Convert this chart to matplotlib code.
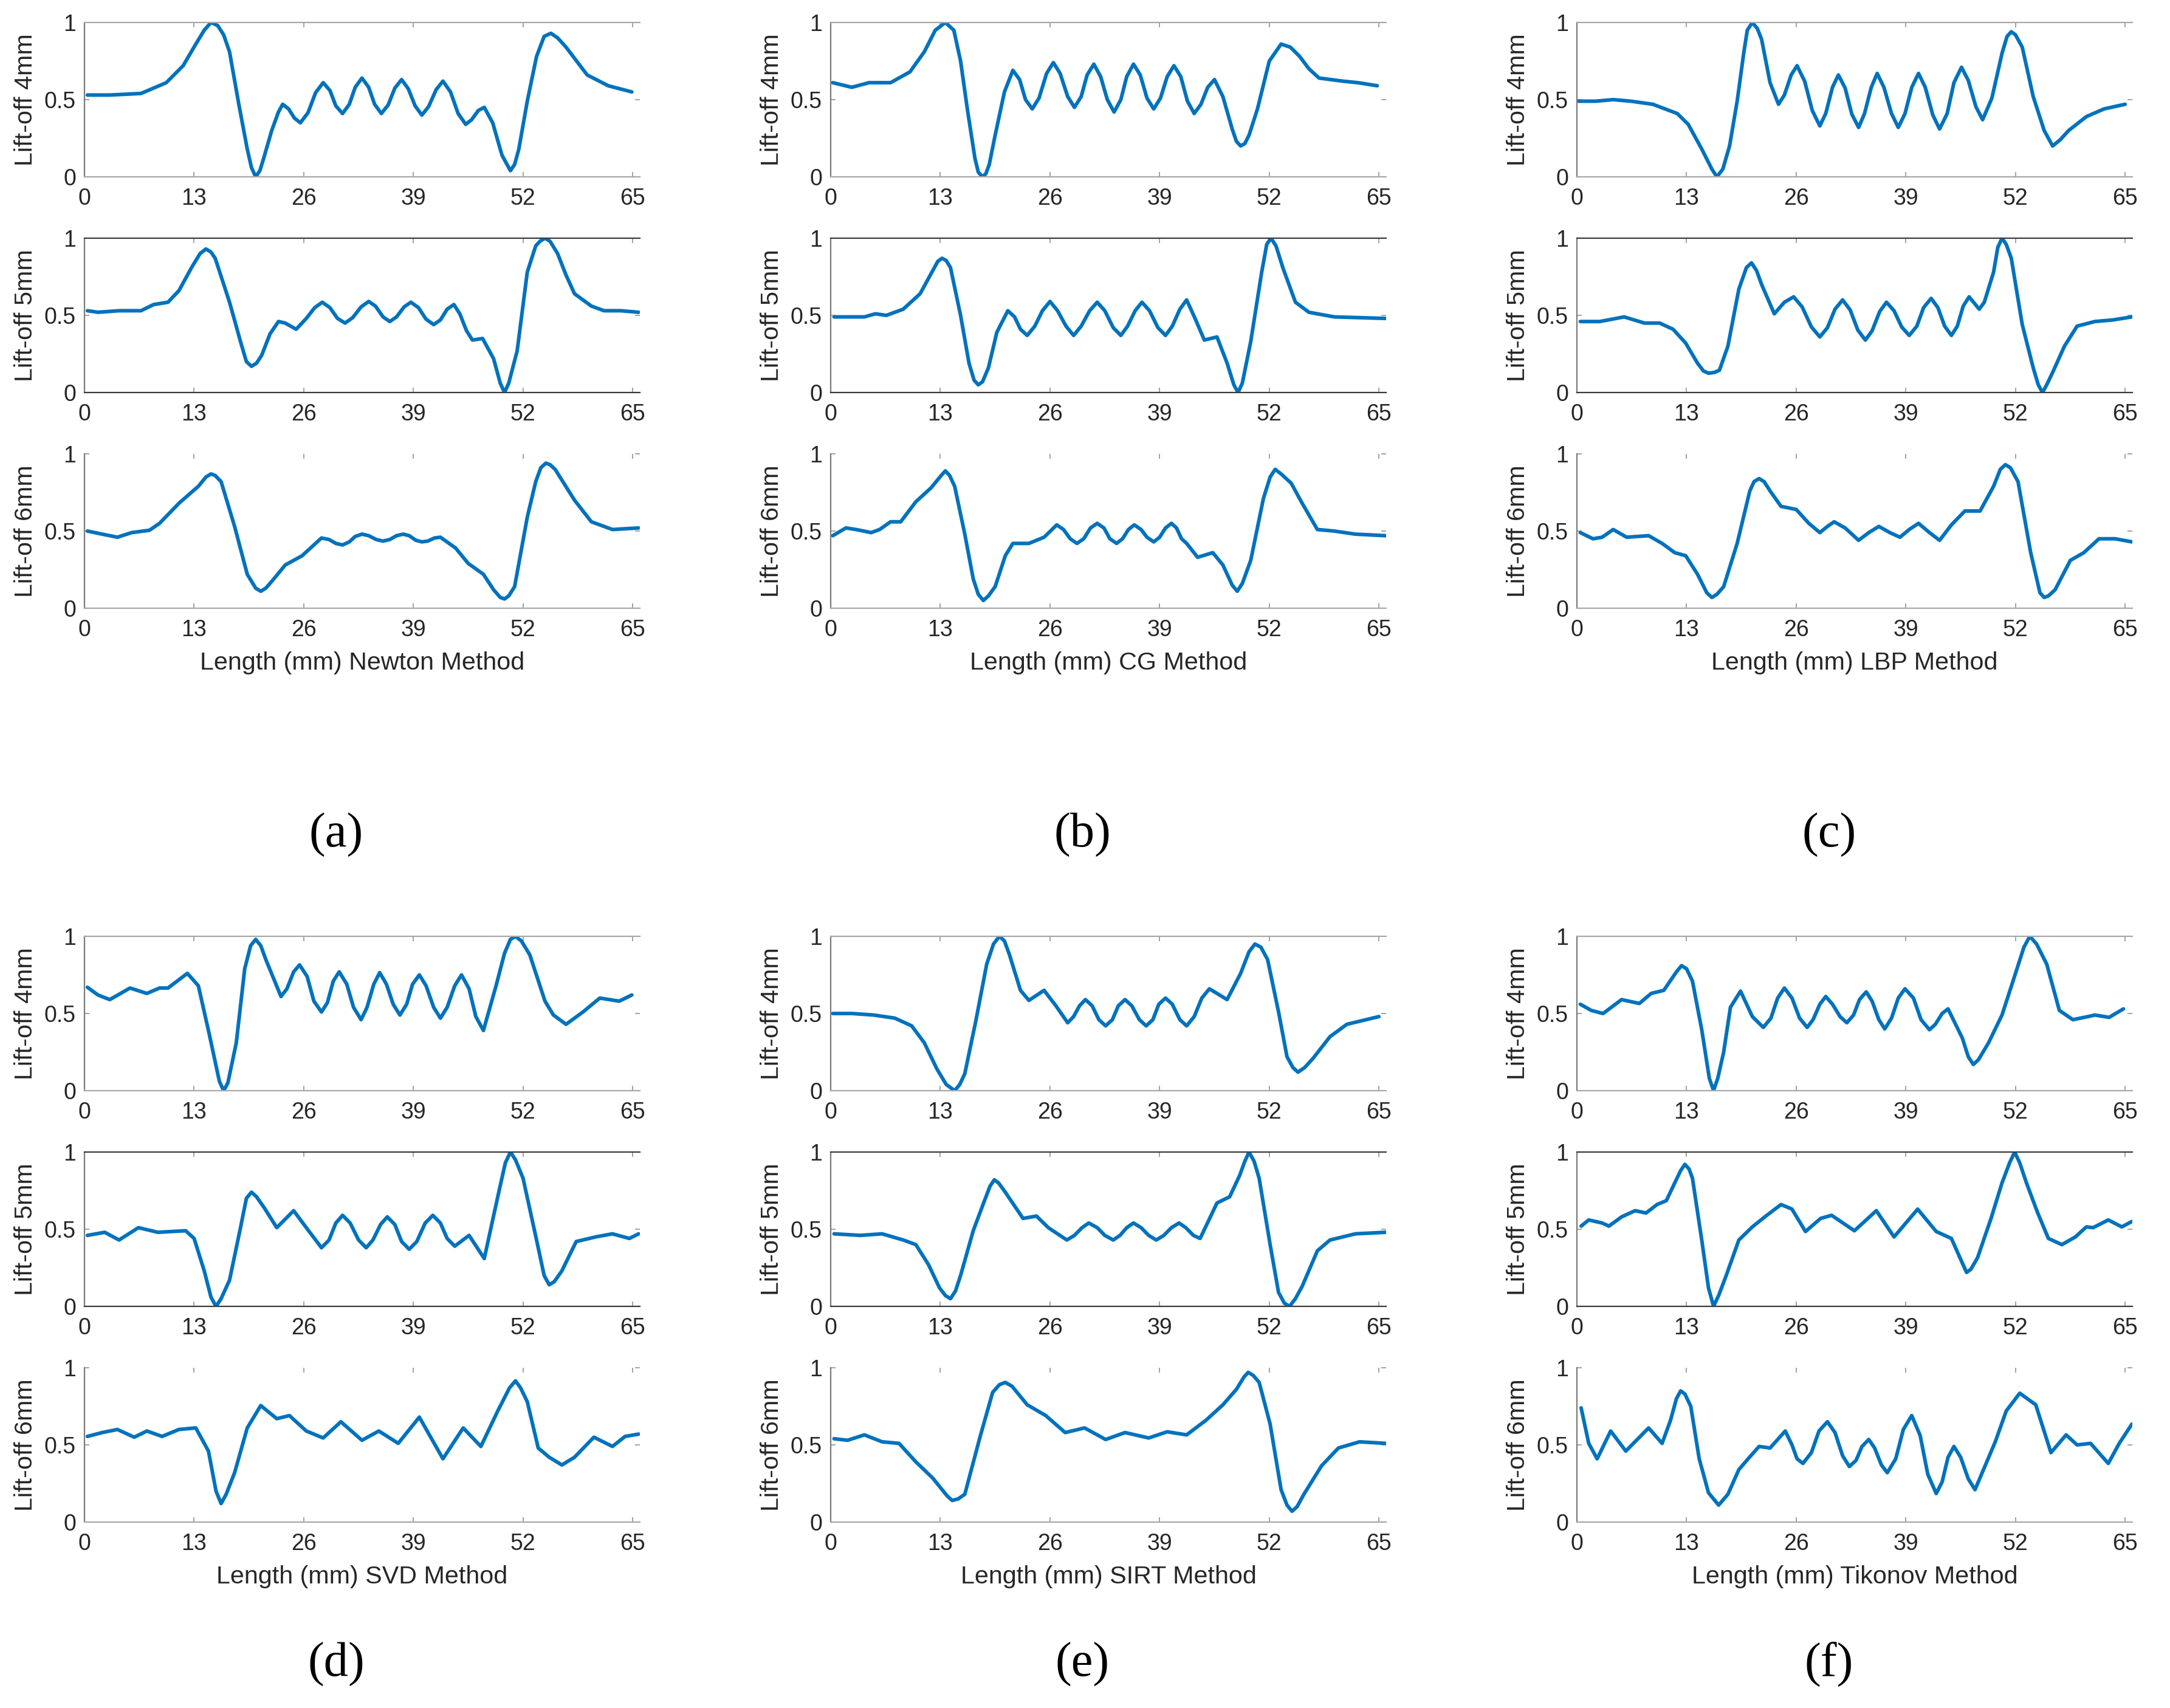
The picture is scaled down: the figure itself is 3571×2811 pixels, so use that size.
import matplotlib
matplotlib.use('Agg')
import matplotlib.pyplot as plt

# curves: (length mm, normalised signal)
newton_4 = [(0.35, 0.53), (3.0, 0.53), (6.7, 0.54), (9.7, 0.61), (11.7, 0.72), (13.2, 0.86), (14.2, 0.95),
            (15.0, 1.0), (15.8, 0.98), (16.5, 0.92), (17.2, 0.81), (18.3, 0.47), (19.3, 0.18), (19.8, 0.06),
            (20.3, 0.0), (20.8, 0.04), (21.3, 0.13), (22.2, 0.30), (23.0, 0.42), (23.5, 0.47), (24.2, 0.44),
            (24.9, 0.38), (25.6, 0.35), (26.5, 0.415), (27.4, 0.545), (28.3, 0.61), (29.1, 0.56), (29.8, 0.46),
            (30.6, 0.41), (31.4, 0.47), (32.1, 0.58), (32.9, 0.64), (33.7, 0.58), (34.4, 0.47), (35.2, 0.41),
            (36.0, 0.465), (36.8, 0.575), (37.6, 0.63), (38.4, 0.57), (39.2, 0.46), (40.0, 0.40), (40.8, 0.455),
            (41.7, 0.565), (42.5, 0.62), (43.4, 0.55), (44.3, 0.41), (45.2, 0.34), (45.9, 0.37), (46.7, 0.43),
            (47.4, 0.45), (48.4, 0.35), (49.5, 0.14), (50.5, 0.04), (51.0, 0.08), (51.5, 0.18), (52.5, 0.49),
            (53.6, 0.78), (54.5, 0.91), (55.3, 0.93), (56.1, 0.90), (57.1, 0.84), (59.6, 0.66), (62.1, 0.59),
            (64.9, 0.55)]
newton_5 = [(0.35, 0.53), (1.6, 0.52), (4.1, 0.53), (6.7, 0.53), (8.2, 0.57), (9.9, 0.585), (11.2, 0.66),
            (12.7, 0.81), (13.7, 0.90), (14.4, 0.93), (15.0, 0.91), (15.5, 0.87), (17.2, 0.585), (18.5, 0.33),
            (19.2, 0.20), (19.8, 0.17), (20.4, 0.19), (21.0, 0.24), (22.0, 0.38), (23.0, 0.46), (23.8, 0.45),
            (25.1, 0.41), (26.3, 0.48), (27.3, 0.55), (28.2, 0.585), (29.1, 0.55), (30.0, 0.48), (30.9, 0.45),
            (31.8, 0.485), (32.8, 0.555), (33.7, 0.59), (34.5, 0.56), (35.4, 0.49), (36.2, 0.46), (37.0, 0.49),
            (37.9, 0.555), (38.7, 0.585), (39.6, 0.55), (40.5, 0.475), (41.4, 0.44), (42.2, 0.47), (43.0, 0.54),
            (43.8, 0.57), (44.5, 0.51), (45.3, 0.40), (46.0, 0.34), (47.2, 0.35), (48.5, 0.22), (49.3, 0.06),
            (49.8, 0.0), (50.3, 0.06), (51.3, 0.27), (52.5, 0.78), (53.5, 0.95), (54.0, 0.98), (54.6, 1.0),
            (55.2, 0.98), (56.1, 0.90), (57.1, 0.76), (58.1, 0.64), (60.1, 0.56), (61.6, 0.53), (63.6, 0.53),
            (65.7, 0.52)]
newton_6 = [(0.35, 0.50), (2.1, 0.48), (3.9, 0.46), (5.6, 0.49), (7.7, 0.505), (8.9, 0.55), (11.2, 0.68),
            (13.5, 0.79), (14.4, 0.85), (15.0, 0.87), (15.5, 0.86), (16.2, 0.82), (17.8, 0.53), (19.3, 0.22),
            (20.3, 0.13), (20.9, 0.11), (21.5, 0.13), (22.3, 0.18), (23.8, 0.28), (25.8, 0.34), (27.0, 0.40),
            (28.1, 0.455), (29.0, 0.445), (29.8, 0.42), (30.6, 0.41), (31.4, 0.43), (32.1, 0.465), (32.9, 0.48),
            (33.7, 0.47), (34.6, 0.445), (35.4, 0.435), (36.2, 0.445), (37.0, 0.47), (37.8, 0.48), (38.5, 0.47),
            (39.3, 0.44), (40.0, 0.43), (40.7, 0.435), (41.5, 0.455), (42.2, 0.46), (44.0, 0.39), (45.5, 0.29),
            (47.3, 0.22), (48.5, 0.12), (49.3, 0.07), (49.8, 0.06), (50.3, 0.08), (51.0, 0.14), (52.5, 0.59),
            (53.5, 0.82), (54.1, 0.91), (54.7, 0.94), (55.2, 0.93), (55.8, 0.90), (58.1, 0.70), (60.1, 0.56),
            (62.6, 0.51), (65.7, 0.52)]

cg_4 = [(0.25, 0.61), (2.5, 0.58), (4.55, 0.61), (7.1, 0.61), (9.4, 0.68), (11.1, 0.81), (12.4, 0.95),
        (13.6, 1.0), (14.6, 0.95), (15.4, 0.75), (16.2, 0.44), (17.1, 0.12), (17.5, 0.03), (18.0, 0.0),
        (18.4, 0.02), (18.8, 0.08), (19.5, 0.27), (20.6, 0.55), (21.6, 0.69), (22.4, 0.63), (23.1, 0.50),
        (23.9, 0.44), (24.7, 0.51), (25.6, 0.67), (26.4, 0.74), (27.2, 0.67), (28.1, 0.52), (28.9, 0.45),
        (29.7, 0.52), (30.4, 0.66), (31.2, 0.73), (32.0, 0.65), (32.8, 0.50), (33.6, 0.42), (34.4, 0.50),
        (35.1, 0.65), (35.9, 0.73), (36.7, 0.66), (37.5, 0.51), (38.3, 0.44), (39.1, 0.51), (39.9, 0.65),
        (40.7, 0.72), (41.5, 0.65), (42.3, 0.49), (43.1, 0.41), (43.9, 0.47), (44.7, 0.58), (45.5, 0.63),
        (46.5, 0.52), (47.6, 0.31), (48.1, 0.23), (48.6, 0.20), (49.1, 0.215), (49.6, 0.27), (50.6, 0.44),
        (52.0, 0.75), (53.4, 0.86), (54.5, 0.84), (55.6, 0.78), (56.7, 0.70), (57.9, 0.64), (60.7, 0.62),
        (62.5, 0.61), (64.8, 0.59)]
cg_5 = [(0.4, 0.49), (4.0, 0.49), (5.3, 0.51), (6.6, 0.50), (8.6, 0.54), (10.6, 0.64), (12.2, 0.80),
        (12.7, 0.85), (13.2, 0.87), (13.7, 0.855), (14.2, 0.81), (15.4, 0.50), (16.4, 0.19), (17.0, 0.08),
        (17.5, 0.05), (18.0, 0.07), (18.7, 0.16), (19.7, 0.39), (21.0, 0.53), (21.8, 0.49), (22.5, 0.41),
        (23.3, 0.37), (24.2, 0.43), (25.1, 0.53), (26.0, 0.59), (26.9, 0.53), (27.9, 0.43), (28.8, 0.37),
        (29.7, 0.43), (30.7, 0.53), (31.6, 0.585), (32.5, 0.53), (33.5, 0.42), (34.4, 0.37), (35.2, 0.43),
        (36.1, 0.53), (36.9, 0.585), (37.8, 0.53), (38.8, 0.42), (39.7, 0.37), (40.5, 0.43), (41.4, 0.54),
        (42.2, 0.60), (43.2, 0.48), (44.3, 0.34), (45.8, 0.36), (47.0, 0.19), (47.8, 0.05), (48.3, 0.0),
        (48.8, 0.06), (49.8, 0.33), (51.1, 0.78), (51.7, 0.96), (52.2, 1.0), (52.8, 0.95), (53.6, 0.81),
        (55.1, 0.585), (56.7, 0.52), (59.7, 0.49), (65.8, 0.48)]
cg_6 = [(0.25, 0.47), (1.8, 0.52), (3.0, 0.51), (4.8, 0.49), (5.8, 0.51), (7.1, 0.56), (8.3, 0.56),
        (10.1, 0.69), (11.9, 0.78), (13.1, 0.86), (13.6, 0.89), (14.1, 0.86), (14.7, 0.79), (15.9, 0.48),
        (16.9, 0.19), (17.5, 0.09), (18.1, 0.05), (18.7, 0.08), (19.5, 0.14), (20.7, 0.34), (21.6, 0.42),
        (23.5, 0.42), (25.3, 0.46), (26.8, 0.54), (27.6, 0.51), (28.4, 0.45), (29.2, 0.42), (30.0, 0.45),
        (30.8, 0.52), (31.6, 0.55), (32.4, 0.52), (33.1, 0.45), (33.9, 0.42), (34.6, 0.45), (35.3, 0.51),
        (36.0, 0.54), (36.8, 0.51), (37.5, 0.46), (38.3, 0.43), (39.0, 0.46), (39.7, 0.52), (40.4, 0.55),
        (41.0, 0.52), (41.6, 0.45), (42.2, 0.42), (43.5, 0.33), (45.3, 0.36), (46.5, 0.28), (47.6, 0.15),
        (48.2, 0.11), (48.8, 0.16), (49.8, 0.31), (51.3, 0.71), (52.1, 0.85), (52.7, 0.90), (53.4, 0.87),
        (54.6, 0.81), (55.9, 0.68), (57.7, 0.51), (59.7, 0.50), (62.2, 0.48), (65.8, 0.47)]

lbp_4 = [(0.2, 0.49), (2.2, 0.49), (4.3, 0.50), (6.4, 0.49), (9.0, 0.47), (11.9, 0.41), (13.2, 0.34),
         (14.8, 0.18), (16.0, 0.05), (16.6, 0.0), (17.3, 0.05), (18.1, 0.20), (19.0, 0.49), (19.8, 0.81),
         (20.2, 0.95), (20.8, 1.0), (21.4, 0.96), (21.9, 0.89), (22.9, 0.61), (23.9, 0.47), (24.6, 0.53),
         (25.4, 0.66), (26.1, 0.72), (27.0, 0.62), (27.9, 0.43), (28.8, 0.33), (29.5, 0.41), (30.3, 0.58),
         (31.0, 0.66), (31.8, 0.575), (32.6, 0.405), (33.4, 0.32), (34.1, 0.41), (34.9, 0.58), (35.6, 0.67),
         (36.4, 0.58), (37.3, 0.41), (38.1, 0.32), (38.9, 0.41), (39.7, 0.58), (40.5, 0.67), (41.3, 0.58),
         (42.2, 0.40), (43.0, 0.31), (43.9, 0.41), (44.7, 0.61), (45.6, 0.71), (46.4, 0.625), (47.3, 0.455),
         (48.1, 0.37), (49.2, 0.51), (50.4, 0.80), (51.0, 0.91), (51.5, 0.94), (52.0, 0.92), (52.8, 0.84),
         (54.1, 0.52), (55.4, 0.30), (56.4, 0.20), (57.3, 0.24), (58.3, 0.30), (60.4, 0.39), (62.5, 0.44),
         (65.0, 0.47)]
lbp_5 = [(0.4, 0.46), (2.7, 0.46), (5.6, 0.49), (8.0, 0.45), (9.8, 0.45), (11.4, 0.41), (12.9, 0.32),
         (14.3, 0.19), (15.0, 0.14), (15.6, 0.125), (16.3, 0.13), (16.9, 0.145), (17.9, 0.30), (19.2, 0.67),
         (20.1, 0.81), (20.7, 0.84), (21.3, 0.79), (21.9, 0.70), (23.4, 0.51), (24.6, 0.585), (25.7, 0.62),
         (26.7, 0.555), (27.8, 0.425), (28.8, 0.36), (29.7, 0.42), (30.6, 0.54), (31.5, 0.60), (32.4, 0.535),
         (33.3, 0.405), (34.2, 0.34), (35.0, 0.40), (35.9, 0.525), (36.7, 0.585), (37.6, 0.53), (38.5, 0.425),
         (39.4, 0.37), (40.3, 0.43), (41.1, 0.55), (42.0, 0.61), (42.8, 0.55), (43.6, 0.43), (44.4, 0.37),
         (45.1, 0.43), (45.8, 0.56), (46.5, 0.62), (47.7, 0.54), (48.3, 0.585), (49.4, 0.78), (49.9, 0.94),
         (50.4, 1.0), (50.9, 0.96), (51.5, 0.87), (52.8, 0.44), (54.1, 0.16), (54.7, 0.05), (55.2, 0.0),
         (55.7, 0.05), (56.4, 0.13), (57.8, 0.30), (59.3, 0.43), (61.4, 0.46), (63.5, 0.47), (65.8, 0.49)]
lbp_6 = [(0.4, 0.49), (1.9, 0.45), (3.0, 0.46), (4.3, 0.51), (5.9, 0.46), (8.5, 0.47), (10.1, 0.42),
         (11.6, 0.36), (12.9, 0.34), (14.3, 0.22), (15.4, 0.10), (16.0, 0.07), (16.6, 0.09), (17.4, 0.14),
         (19.0, 0.42), (20.5, 0.76), (21.0, 0.82), (21.6, 0.84), (22.2, 0.82), (22.9, 0.76), (24.2, 0.66),
         (26.0, 0.64), (27.5, 0.55), (28.8, 0.49), (29.7, 0.53), (30.5, 0.56), (31.8, 0.52), (33.4, 0.44),
         (34.6, 0.49), (35.8, 0.53), (37.1, 0.49), (38.3, 0.46), (39.4, 0.51), (40.5, 0.55), (41.8, 0.49),
         (43.0, 0.44), (44.4, 0.54), (46.0, 0.63), (47.8, 0.63), (49.4, 0.79), (50.2, 0.90), (50.8, 0.93),
         (51.4, 0.91), (52.3, 0.82), (53.8, 0.36), (54.9, 0.10), (55.4, 0.07), (55.9, 0.08), (56.7, 0.12),
         (58.5, 0.31), (60.1, 0.36), (61.9, 0.45), (63.8, 0.45), (65.8, 0.43)]

svd_4 = [(0.35, 0.67), (1.6, 0.62), (3.0, 0.59), (5.4, 0.665), (7.4, 0.63), (8.9, 0.665), (9.9, 0.665),
         (12.2, 0.76), (13.5, 0.68), (14.7, 0.39), (16.0, 0.06), (16.5, 0.0), (17.0, 0.05), (18.0, 0.31),
         (19.0, 0.79), (19.7, 0.94), (20.3, 0.98), (20.9, 0.94), (21.5, 0.85), (23.3, 0.61), (24.0, 0.66),
         (24.8, 0.77), (25.5, 0.815), (26.4, 0.74), (27.2, 0.58), (28.1, 0.51), (28.8, 0.57), (29.5, 0.71),
         (30.2, 0.77), (31.1, 0.69), (31.9, 0.54), (32.8, 0.46), (33.5, 0.54), (34.3, 0.69), (35.0, 0.765),
         (35.8, 0.69), (36.6, 0.56), (37.4, 0.49), (38.2, 0.56), (38.9, 0.69), (39.7, 0.75), (40.5, 0.68),
         (41.4, 0.54), (42.2, 0.47), (43.0, 0.54), (43.9, 0.68), (44.7, 0.75), (45.6, 0.66), (46.4, 0.48),
         (47.3, 0.39), (48.8, 0.68), (49.8, 0.89), (50.5, 0.98), (51.1, 1.0), (51.8, 0.97), (52.8, 0.88),
         (54.6, 0.58), (55.6, 0.49), (57.1, 0.43), (59.1, 0.51), (61.1, 0.60), (63.4, 0.58), (64.9, 0.62)]
svd_5 = [(0.35, 0.46), (2.4, 0.48), (4.1, 0.43), (6.4, 0.51), (8.7, 0.48), (12.0, 0.49), (13.0, 0.44),
         (14.2, 0.23), (15.0, 0.06), (15.6, 0.0), (16.2, 0.05), (17.2, 0.17), (18.5, 0.51), (19.2, 0.70),
         (19.8, 0.74), (20.4, 0.71), (21.3, 0.64), (22.8, 0.51), (24.8, 0.62), (26.3, 0.51), (28.1, 0.38),
         (29.0, 0.43), (29.8, 0.54), (30.6, 0.59), (31.5, 0.54), (32.5, 0.43), (33.4, 0.38), (34.2, 0.43),
         (35.1, 0.53), (35.9, 0.58), (36.8, 0.53), (37.6, 0.42), (38.5, 0.37), (39.4, 0.42), (40.4, 0.54),
         (41.3, 0.59), (42.2, 0.54), (43.0, 0.44), (43.9, 0.39), (45.6, 0.46), (47.4, 0.31), (49.0, 0.71),
         (49.9, 0.93), (50.5, 1.0), (51.1, 0.95), (52.0, 0.83), (53.6, 0.43), (54.5, 0.20), (55.1, 0.14),
         (55.7, 0.16), (56.6, 0.23), (58.3, 0.42), (60.6, 0.45), (62.6, 0.47), (64.6, 0.44), (65.7, 0.47)]
svd_6 = [(0.35, 0.555), (2.1, 0.58), (3.9, 0.60), (5.9, 0.55), (7.4, 0.59), (9.2, 0.555), (11.2, 0.60),
         (13.2, 0.61), (14.7, 0.46), (15.6, 0.20), (16.2, 0.12), (16.8, 0.18), (17.8, 0.32), (19.3, 0.61),
         (20.9, 0.755), (22.8, 0.67), (24.3, 0.69), (26.3, 0.59), (28.3, 0.545), (30.4, 0.65), (32.9, 0.53),
         (34.9, 0.59), (37.2, 0.51), (39.7, 0.68), (42.5, 0.41), (44.9, 0.61), (47.0, 0.49), (49.0, 0.72),
         (50.4, 0.87), (51.1, 0.915), (51.7, 0.87), (52.5, 0.78), (53.8, 0.48), (55.1, 0.42), (56.6, 0.37),
         (58.1, 0.42), (60.4, 0.55), (62.6, 0.49), (64.1, 0.555), (65.7, 0.57)]

sirt_4 = [(0.25, 0.50), (2.5, 0.50), (5.1, 0.49), (7.6, 0.47), (9.6, 0.42), (11.1, 0.31), (12.6, 0.14),
          (13.7, 0.04), (14.7, 0.0), (15.3, 0.04), (15.9, 0.11), (17.2, 0.45), (18.5, 0.82), (19.3, 0.95),
          (20.0, 1.0), (20.6, 0.97), (21.2, 0.88), (22.5, 0.65), (23.5, 0.585), (25.3, 0.65), (26.7, 0.55),
          (28.1, 0.44), (28.8, 0.48), (29.5, 0.55), (30.2, 0.59), (31.0, 0.55), (31.8, 0.46), (32.6, 0.42),
          (33.4, 0.46), (34.1, 0.55), (34.9, 0.59), (35.7, 0.55), (36.6, 0.46), (37.4, 0.42), (38.2, 0.46),
          (38.9, 0.56), (39.7, 0.60), (40.5, 0.56), (41.4, 0.46), (42.2, 0.42), (43.1, 0.48), (44.0, 0.60),
          (44.9, 0.66), (47.0, 0.59), (48.6, 0.76), (49.6, 0.90), (50.3, 0.95), (51.0, 0.93), (51.8, 0.85),
          (53.1, 0.51), (54.1, 0.22), (54.8, 0.15), (55.4, 0.12), (56.2, 0.15), (57.2, 0.21), (59.2, 0.35),
          (61.2, 0.43), (65.0, 0.48)]
sirt_5 = [(0.4, 0.47), (3.5, 0.46), (6.1, 0.47), (8.6, 0.43), (10.1, 0.40), (11.6, 0.27), (12.9, 0.12),
          (13.6, 0.07), (14.2, 0.05), (14.8, 0.10), (15.4, 0.20), (16.9, 0.49), (18.2, 0.68), (18.9, 0.78),
          (19.4, 0.82), (19.9, 0.80), (20.7, 0.74), (22.8, 0.57), (24.4, 0.585), (25.8, 0.51), (28.0, 0.43),
          (28.9, 0.46), (29.8, 0.51), (30.6, 0.54), (31.6, 0.51), (32.5, 0.46), (33.5, 0.43), (34.3, 0.46),
          (35.1, 0.51), (35.9, 0.54), (36.8, 0.51), (37.7, 0.46), (38.6, 0.43), (39.5, 0.46), (40.4, 0.51),
          (41.3, 0.54), (42.1, 0.51), (43.0, 0.46), (43.8, 0.44), (45.8, 0.67), (47.3, 0.71), (48.5, 0.85),
          (49.1, 0.94), (49.6, 1.0), (50.2, 0.94), (50.8, 0.83), (52.1, 0.40), (53.1, 0.09), (53.8, 0.02),
          (54.4, 0.0), (55.1, 0.05), (55.9, 0.13), (57.7, 0.36), (59.2, 0.43), (62.2, 0.47), (65.8, 0.48)]
sirt_6 = [(0.4, 0.54), (2.0, 0.53), (4.0, 0.565), (6.1, 0.52), (8.1, 0.51), (10.1, 0.39), (12.1, 0.285),
          (13.8, 0.17), (14.4, 0.14), (15.1, 0.15), (15.9, 0.18), (17.7, 0.55), (19.2, 0.84), (20.0, 0.89),
          (20.7, 0.905), (21.5, 0.88), (23.3, 0.76), (25.5, 0.69), (27.8, 0.58), (30.1, 0.61), (32.6, 0.535),
          (34.9, 0.58), (37.7, 0.545), (39.9, 0.585), (42.2, 0.565), (44.5, 0.66), (46.5, 0.76), (48.1, 0.86),
          (49.0, 0.94), (49.5, 0.97), (50.1, 0.95), (50.8, 0.905), (52.1, 0.635), (53.4, 0.21), (54.1, 0.11),
          (54.7, 0.07), (55.3, 0.10), (56.1, 0.18), (58.2, 0.365), (60.2, 0.48), (62.7, 0.52), (65.8, 0.51)]

tik_4 = [(0.4, 0.56), (1.7, 0.52), (3.1, 0.50), (5.3, 0.59), (7.4, 0.565), (8.8, 0.63), (10.3, 0.65),
         (11.8, 0.77), (12.4, 0.81), (13.0, 0.79), (13.7, 0.71), (14.8, 0.395), (15.7, 0.08), (16.2, 0.0),
         (16.7, 0.08), (17.4, 0.25), (18.2, 0.54), (19.4, 0.645), (20.8, 0.48), (22.1, 0.41), (23.0, 0.47),
         (23.8, 0.60), (24.6, 0.665), (25.5, 0.60), (26.4, 0.47), (27.3, 0.41), (28.0, 0.46), (28.8, 0.56),
         (29.5, 0.61), (30.3, 0.56), (31.2, 0.48), (32.0, 0.44), (32.8, 0.49), (33.5, 0.59), (34.3, 0.64),
         (35.0, 0.58), (35.8, 0.46), (36.5, 0.40), (37.3, 0.47), (38.1, 0.60), (38.9, 0.66), (39.9, 0.60),
         (40.8, 0.46), (41.8, 0.395), (42.5, 0.43), (43.3, 0.50), (44.0, 0.53), (45.7, 0.34), (46.4, 0.22),
         (47.0, 0.17), (47.6, 0.20), (48.8, 0.31), (50.4, 0.49), (52.0, 0.76), (53.0, 0.93), (53.7, 1.0),
         (54.5, 0.95), (55.7, 0.82), (57.2, 0.52), (58.8, 0.46), (60.6, 0.48), (61.4, 0.49), (63.1, 0.475),
         (64.8, 0.53)]
tik_5 = [(0.5, 0.52), (1.4, 0.56), (3.0, 0.54), (3.8, 0.52), (5.3, 0.58), (6.9, 0.62), (8.2, 0.605),
         (9.5, 0.66), (10.6, 0.685), (11.6, 0.80), (12.3, 0.88), (12.8, 0.92), (13.3, 0.89), (13.7, 0.83),
         (14.8, 0.43), (15.6, 0.12), (16.2, 0.0), (16.8, 0.07), (17.7, 0.20), (19.2, 0.43), (20.8, 0.515),
         (22.4, 0.585), (24.2, 0.66), (25.5, 0.63), (27.1, 0.485), (28.9, 0.57), (30.2, 0.59), (32.9, 0.49),
         (35.5, 0.62), (37.6, 0.45), (40.4, 0.63), (42.6, 0.485), (44.4, 0.44), (45.7, 0.28), (46.2, 0.22),
         (46.7, 0.24), (47.5, 0.315), (49.1, 0.57), (50.4, 0.80), (51.3, 0.93), (51.9, 1.0), (52.5, 0.93),
         (53.3, 0.80), (54.6, 0.61), (55.9, 0.44), (57.5, 0.40), (59.1, 0.45), (60.4, 0.515), (61.2, 0.51),
         (63.0, 0.56), (64.6, 0.515), (65.8, 0.55)]
tik_6 = [(0.5, 0.74), (1.4, 0.51), (2.4, 0.41), (4.0, 0.59), (5.8, 0.46), (8.5, 0.61), (10.1, 0.51),
         (11.1, 0.66), (11.8, 0.80), (12.3, 0.85), (12.8, 0.83), (13.5, 0.75), (14.5, 0.41), (15.6, 0.19),
         (16.8, 0.11), (17.9, 0.18), (19.2, 0.34), (20.3, 0.41), (21.6, 0.49), (22.9, 0.48), (24.7, 0.59),
         (25.5, 0.50), (26.1, 0.41), (26.8, 0.38), (27.8, 0.45), (28.7, 0.59), (29.7, 0.65), (30.6, 0.58),
         (31.5, 0.43), (32.3, 0.36), (33.1, 0.40), (33.8, 0.49), (34.6, 0.535), (35.3, 0.48), (36.1, 0.37),
         (36.8, 0.32), (37.8, 0.41), (38.7, 0.60), (39.7, 0.69), (40.7, 0.56), (41.6, 0.31), (42.6, 0.185),
         (43.3, 0.26), (44.0, 0.42), (44.7, 0.49), (45.5, 0.42), (46.4, 0.28), (47.2, 0.21), (49.6, 0.52),
         (50.9, 0.72), (52.5, 0.835), (54.4, 0.76), (56.2, 0.45), (58.0, 0.565), (59.3, 0.50), (60.9, 0.51),
         (63.0, 0.38), (64.3, 0.51), (65.8, 0.635)]

methods = ['Newton', 'CG', 'LBP', 'SVD', 'SIRT', 'Tikonov']
letters = ['(a)', '(b)', '(c)', '(d)', '(e)', '(f)']
lift_offs = ['4mm', '5mm', '6mm']
x_ticks = [0, 13, 26, 39, 52, 65]
y_ticks = [0, 0.5, 1]
y_tick_labels = ['0', '0.5', '1']

panels = [
    [newton_4, newton_5, newton_6],
    [cg_4, cg_5, cg_6],
    [lbp_4, lbp_5, lbp_6],
    [svd_4, svd_5, svd_6],
    [sirt_4, sirt_5, sirt_6],
    [tik_4, tik_5, tik_6],
]

W, H = 3571, 2811
plt.rcParams['font.family'] = ['Liberation Sans', 'DejaVu Sans']
fig = plt.figure(figsize=(W / 100, H / 100), dpi=100)

col_left = [139, 1367, 2595]      # px
row_tops = [[37, 392, 747], [1541, 1896, 2251]]
ax_w, ax_h = 914, 254
letter_x = [553, 1781, 3010]
letter_y = [1374, 2739]

text_col = '#262626'
light = '#a8a8a8'
dark = '#3a3a3a'

for i, curves in enumerate(panels):
    row, col = divmod(i, 3)
    for j, curve in enumerate(curves):
        top = row_tops[row][j]
        ax = fig.add_axes([col_left[col] / W, 1 - (top + ax_h) / H, ax_w / W, ax_h / H])
        xs = [p[0] for p in curve]
        ys = [p[1] for p in curve]
        ax.plot(xs, ys, color='#0072BD', lw=4.3, solid_joinstyle='round', solid_capstyle='round')
        ax.set_xlim(0, 65.85)
        ax.set_ylim(0, 1)
        ax.set_xticks(x_ticks)
        ax.set_yticks(y_ticks)
        ax.set_yticklabels(y_tick_labels)
        ax.tick_params(direction='in', length=5.5, width=1.1, color='#8a8a8a',
                       labelsize=27, labelcolor=text_col, top=True, right=True)
        ax.tick_params(axis='x', pad=13)
        ax.tick_params(axis='y', pad=10)
        ax.spines['right'].set_visible(False)
        ax.spines['left'].set_color('#7a7a7a')
        ax.spines['left'].set_linewidth(1.6)
        for s in ['top', 'bottom']:
            ax.spines[s].set_linewidth(1.6)
            ax.spines[s].set_color(dark if j == 1 else light)
        if j == 2:
            ax.spines['top'].set_visible(False)
        ax.set_ylabel('Lift-off ' + lift_offs[j], fontsize=29.7, color=text_col)
        ax.yaxis.set_label_coords(-0.085, 0.5)
        if j == 2:
            ax.set_xlabel('Length (mm) ' + methods[i] + ' Method', fontsize=29.7, color=text_col)
            ax.xaxis.set_label_coords(0.5, -0.28)
    fig.text(letter_x[col] / W, 1 - letter_y[row] / H, letters[i], ha='center', va='center',
             fontsize=58, family='Liberation Serif', color='black')

fig.savefig('out.png', dpi=100, facecolor='white')
